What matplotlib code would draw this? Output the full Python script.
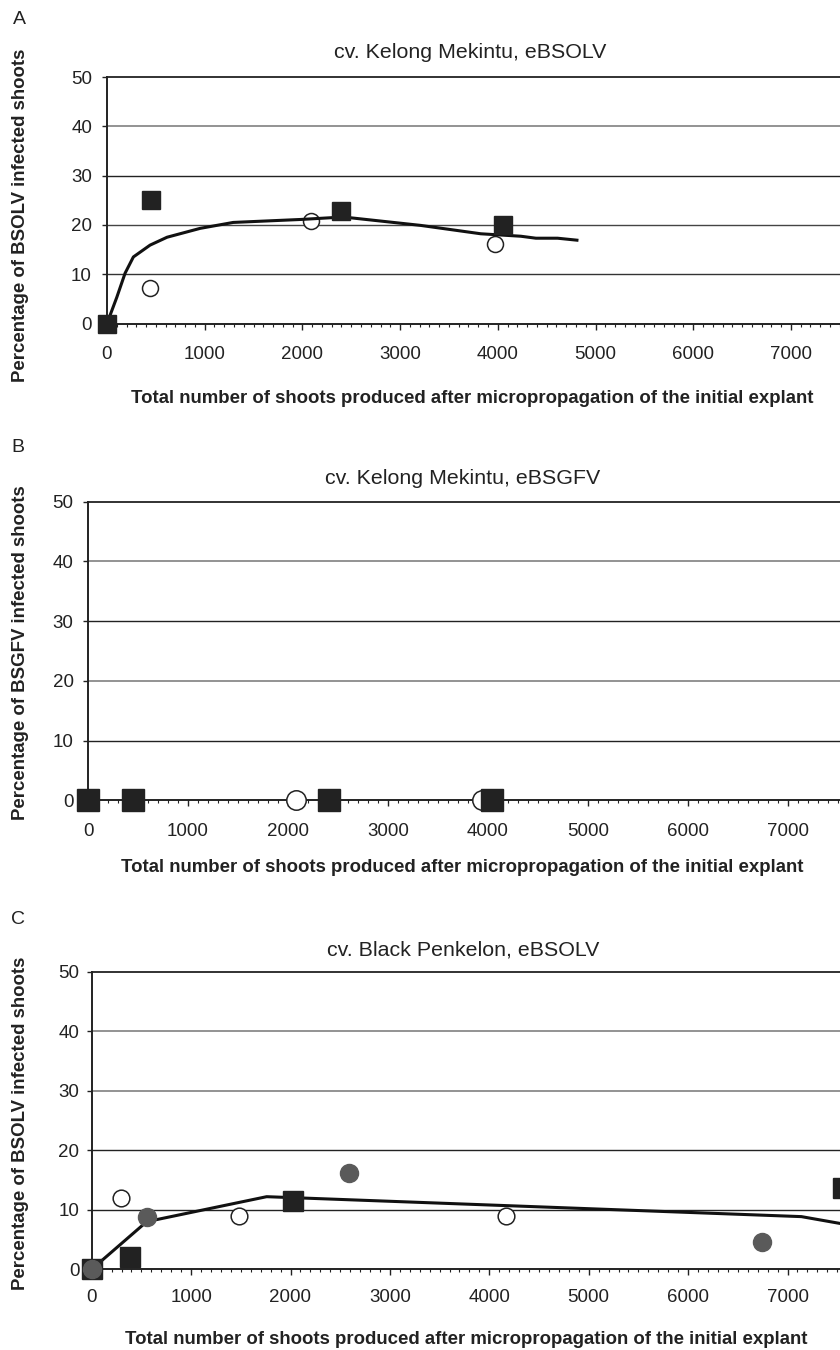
import matplotlib
matplotlib.use("Agg")
import matplotlib.pyplot as plt
from matplotlib.ticker import MultipleLocator

plt.rcParams['font.family'] = ['Liberation Sans', 'DejaVu Sans']

# ---------------- data ----------------
# Panel A: cv. Kelong Mekintu, eBSOLV
a_sq_x = [0, 450, 2400, 4050]
a_sq_y = [0, 25.0, 22.8, 20.0]
a_oc_x = [440, 2085, 3970]
a_oc_y = [7.3, 20.7, 16.1]
a_line_x = [0, 100, 185, 270, 441, 615, 954, 1292, 1635, 1980, 2420, 3210, 3826, 4236, 4390, 4612, 4810]
a_line_y = [0, 5.3, 10.2, 13.5, 15.9, 17.5, 19.3, 20.5, 20.8, 21.1, 21.6, 19.9, 18.2, 17.7, 17.3, 17.3, 16.9]

# Panel B: cv. Kelong Mekintu, eBSGFV
b_sq_x = [0, 453, 2413, 4043]
b_sq_y = [0, 0, 0, 0]
b_oc_x = [2080, 3940]
b_oc_y = [0, 0]

# Panel C: cv. Black Penkelon, eBSOLV
c_sq_x = [0, 385, 2028, 7560]
c_sq_y = [0, 2.1, 11.5, 13.6]
c_oc_x = [292, 1482, 4168]
c_oc_y = [11.9, 9.0, 9.0]
c_gc_x = [0, 553, 2589, 6740]
c_gc_y = [0, 8.8, 16.1, 4.6]
c_line_x = [0, 553, 1760, 7140, 7530, 7800]
c_line_y = [0, 8.0, 12.2, 8.85, 7.7, 6.9]

titles = ["cv. Kelong Mekintu, eBSOLV", "cv. Kelong Mekintu, eBSGFV", "cv. Black Penkelon, eBSOLV"]
ylabels = ["Percentage of BSOLV infected shoots", "Percentage of BSGFV infected shoots",
           "Percentage of BSOLV infected shoots"]
xlabel = "Total number of shoots produced after micropropagation of the initial explant"
panel_letters = ["A", "B", "C"]
y_ticks = [0, 10, 20, 30, 40, 50]
x_ticks = [0, 1000, 2000, 3000, 4000, 5000, 6000, 7000]

# ---------------- layout ----------------
W, H = 840, 1350
fig = plt.figure(figsize=(8.4, 13.5), dpi=100)
TXT = '#222222'

def fx(px):
    return px / W

def fy(py):
    return 1 - py / H

# (left px, px per 1000, y50 px, y0 px)
geo = [(107, 97.7, 77, 323.5), (88, 100.0, 501.7, 800.5), (91.7, 99.4, 971.7, 1269.3)]
grid_cols = [
    {10: '#333333', 20: '#444444', 30: '#222222', 40: '#8a8a8a'},
    {10: '#222222', 20: '#8a8a8a', 30: '#222222', 40: '#8a8a8a'},
    {10: '#222222', 20: '#222222', 30: '#8a8a8a', 40: '#8a8a8a'},
]
title_pos = [(470, 52), (463, 478), (463, 950)]
letter_pos = [(19.5, 20), (18, 447), (18.5, 920)]
xlabel_pos = [(472, 398), (462, 867), (466, 1340)]
ylabel_pos = [(21, 215), (21, 653), (21, 1123)]
xpad = [12, 12, 9.5]
ypad = [7, 6.5, 5]

axes = []
for i in range(3):
    left, ppk, y50, y0 = geo[i]
    width = ppk * 8.0
    ax = fig.add_axes([fx(left), fy(y0), width / W, (y0 - y50) / H])
    ax.set_xlim(0, 8000)
    ax.set_ylim(0, 50)
    for yv, col in grid_cols[i].items():
        ax.axhline(yv, color=col, lw=1.0 if col != '#8a8a8a' else 1.3, zorder=1)
    ax.spines['right'].set_visible(False)
    ax.spines['top'].set_color('#222222')
    ax.spines['top'].set_linewidth(1.3)
    ax.spines['left'].set_color('#222222')
    ax.spines['left'].set_linewidth(1.4)
    ax.spines['bottom'].set_color('#222222')
    ax.spines['bottom'].set_linewidth(1.4)
    ax.set_xticks(x_ticks)
    ax.xaxis.set_minor_locator(MultipleLocator(100))
    ax.set_yticks(y_ticks)
    ax.tick_params(axis='x', which='major', direction='out', length=4.5, width=1.0,
                   color='#222222', labelsize=13.5, labelcolor=TXT, pad=xpad[i])
    ax.tick_params(axis='x', which='minor', direction='out', length=2.4, width=0.8,
                   color='#222222')
    ax.tick_params(axis='y', which='major', direction='out', length=3.8, width=1.0,
                   color='#222222', labelsize=13.5, labelcolor=TXT, pad=ypad[i])
    ax.set_facecolor('white')
    axes.append(ax)
    fig.text(fx(title_pos[i][0]), fy(title_pos[i][1]), titles[i], ha='center', va='center',
             fontsize=15.4, color=TXT)
    fig.text(fx(letter_pos[i][0]), fy(letter_pos[i][1]), panel_letters[i], ha='center', va='center',
             fontsize=14, color=TXT)
    fig.text(fx(xlabel_pos[i][0]), fy(xlabel_pos[i][1]), xlabel, ha='center', va='center',
             fontsize=13.4, fontweight='bold', color=TXT)
    fig.text(fx(ylabel_pos[i][0]), fy(ylabel_pos[i][1]), ylabels[i], ha='center', va='center',
             rotation=90, fontsize=13.4, fontweight='bold', color=TXT)

SQ = '#222222'
GC = '#5a5a5a'

# Panel A
ax = axes[0]
ax.plot(a_oc_x, a_oc_y, 'o', ms=11.5, mfc='white', mec='#222222', mew=1.1, zorder=3, clip_on=False)
ax.plot(a_line_x, a_line_y, '-', color='#111111', lw=2.2, zorder=4, solid_joinstyle='round')
ax.plot(a_sq_x, a_sq_y, 's', ms=13, mfc=SQ, mec=SQ, zorder=5, clip_on=False)

# Panel B
ax = axes[1]
ax.plot(b_oc_x, b_oc_y, 'o', ms=14, mfc='white', mec='#222222', mew=1.1, zorder=3, clip_on=False)
ax.plot(b_sq_x, b_sq_y, 's', ms=15.5, mfc=SQ, mec=SQ, zorder=5, clip_on=False)

# Panel C
ax = axes[2]
ax.plot(c_oc_x, c_oc_y, 'o', ms=12, mfc='white', mec='#222222', mew=1.1, zorder=3, clip_on=False)
ax.plot(c_line_x, c_line_y, '-', color='#111111', lw=2.2, zorder=4, solid_joinstyle='round')
ax.plot(c_sq_x, c_sq_y, 's', ms=14, mfc=SQ, mec=SQ, zorder=5, clip_on=False)
ax.plot(c_gc_x, c_gc_y, 'o', ms=13, mfc=GC, mec=GC, zorder=6, clip_on=False)

fig.savefig('out.png', dpi=100, facecolor='white')
